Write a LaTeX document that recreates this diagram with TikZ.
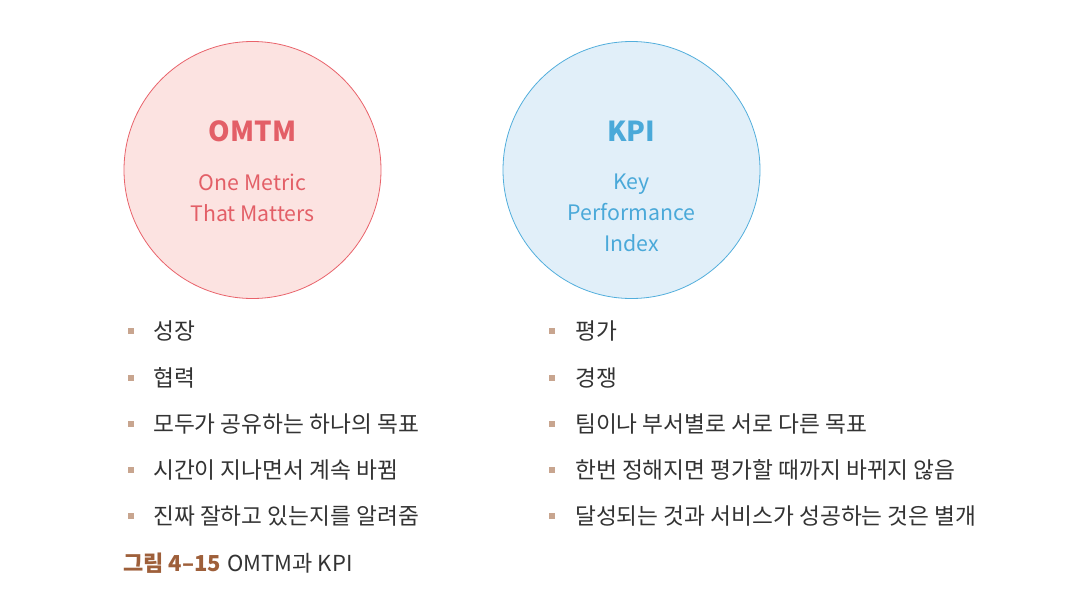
\documentclass[tikz,border=0pt]{standalone}
\usepackage{fontspec}
\setmainfont{Noto Sans CJK KR}
\newfontfamily\cjk{Noto Sans CJK KR}
\definecolor{pinkfill}{HTML}{FCE3E1}
\definecolor{pinkline}{HTML}{E9636B}
\definecolor{pinktext}{HTML}{E35F67}
\definecolor{bluefill}{HTML}{E1EFF9}
\definecolor{blueline}{HTML}{52AEDC}
\definecolor{bluetext}{HTML}{4AA9D9}
\definecolor{bulletc}{HTML}{C8A58F}
\definecolor{bodytext}{HTML}{333333}
\definecolor{captc}{HTML}{9E5F3A}
\begin{document}
\begin{tikzpicture}[x=1pt,y=-1pt,
  bigc/.style={circle,minimum size=257pt,inner sep=0pt,line width=0.8pt},
  title/.style={font=\bfseries\fontsize{27.5}{30}\selectfont},
  sub/.style={font=\fontsize{21.3}{31}\selectfont,align=center},
  item/.style={anchor=west,font=\fontsize{22.7}{24}\selectfont,text=bodytext,inner sep=0pt},
  sq/.style={fill=bulletc,minimum size=6.5pt,inner sep=0pt}]
\useasboundingbox (0,0) rectangle (1078,602);
\node[bigc,draw=pinkline,fill=pinkfill] (c1) at (252.5,170) {};
\node[bigc,draw=blueline,fill=bluefill] (c2) at (631.5,170) {};
\node[title,text=pinktext] (t1) at (252.5,131) {OMTM};
\node[sub,text=pinktext] (s1) at (252.5,197.5) {One Metric\\That Matters};
\node[title,text=bluetext] (t2) at (631.5,131) {KPI};
\node[sub,text=bluetext] (s2) at (631.5,213) {Key\\Performance\\Index};
% left list
\node[sq] (lb1) at (131,331) {};
\node[item] (l1) at (153,331) {성장};
\node[sq] (lb2) at (131,378) {};
\node[item] (l2) at (153,378) {협력};
\node[sq] (lb3) at (131,424) {};
\node[item] (l3) at (153,424) {모두가 공유하는 하나의 목표};
\node[sq] (lb4) at (131,470) {};
\node[item] (l4) at (153,470) {시간이 지나면서 계속 바뀜};
\node[sq] (lb5) at (131,516) {};
\node[item] (l5) at (153,516) {진짜 잘하고 있는지를 알려줌};
% right list
\node[sq] (rb1) at (552,331) {};
\node[item] (r1) at (575,331) {평가};
\node[sq] (rb2) at (552,378) {};
\node[item] (r2) at (575,378) {경쟁};
\node[sq] (rb3) at (552,424) {};
\node[item] (r3) at (575,424) {팀이나 부서별로 서로 다른 목표};
\node[sq] (rb4) at (552,470) {};
\node[item] (r4) at (575,470) {한번 정해지면 평가할 때까지 바뀌지 않음};
\node[sq] (rb5) at (552,516) {};
\node[item] (r5) at (575,516) {달성되는 것과 서비스가 성공하는 것은 별개};
% caption
\node[anchor=west,inner sep=0pt,font=\fontsize{22}{24}\selectfont] (cap) at (123,563)
  {\textcolor{captc}{\bfseries 그림 4–15}\hspace{0.3em}\textcolor{bodytext}{OMTM과 KPI}};
\end{tikzpicture}
\end{document}
